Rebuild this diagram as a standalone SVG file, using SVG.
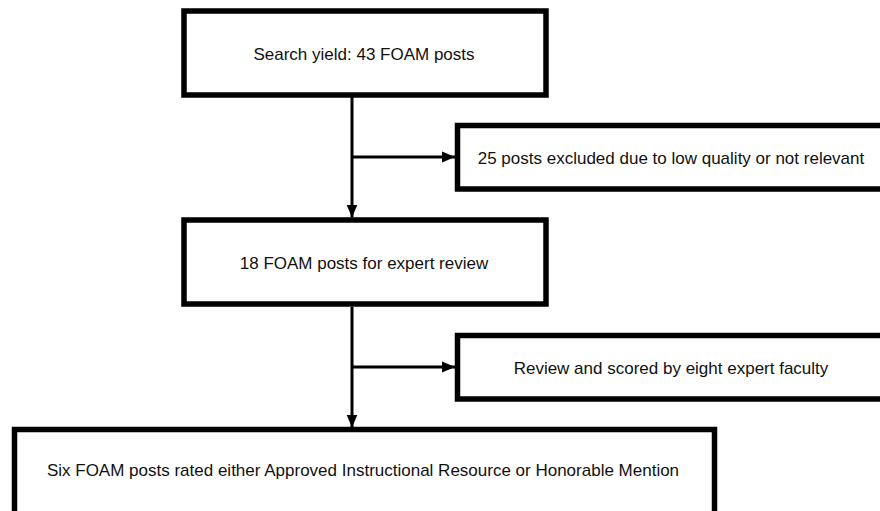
<svg xmlns="http://www.w3.org/2000/svg" width="880" height="511" viewBox="0 0 880 511">
  <defs>
    <style>
      .box { fill: #ffffff; stroke: #000000; stroke-width: 5.5; }
      .lbl { font-family: "Liberation Sans", Arial, Helvetica, sans-serif; font-size: 17px; fill: #111111; text-anchor: middle; }
      .conn { stroke: #000000; stroke-width: 3; fill: none; }
    </style>
    <marker id="arrow" markerUnits="userSpaceOnUse" markerWidth="14" markerHeight="12" refX="13" refY="6" orient="auto">
      <path d="M0,0.5 L13,6 L0,11.5 z" fill="#000000"/>
    </marker>
  </defs>
  <rect width="880" height="511" fill="#ffffff"/>

  <g id="connectors">
    <line class="conn" x1="352" y1="97" x2="352" y2="217.5" marker-end="url(#arrow)"/>
    <line class="conn" x1="352" y1="157" x2="455" y2="157" marker-end="url(#arrow)"/>
    <line class="conn" x1="352" y1="307" x2="352" y2="427.5" marker-end="url(#arrow)"/>
    <line class="conn" x1="352" y1="367" x2="455" y2="367" marker-end="url(#arrow)"/>
  </g>

  <g id="node-search">
    <rect class="box" x="184" y="11" width="362" height="84"/>
    <text class="lbl" x="364" y="59.5">Search yield: 43 FOAM posts</text>
  </g>

  <g id="node-excluded">
    <rect class="box" x="457.5" y="125.5" width="430" height="63.5"/>
    <text class="lbl" x="671" y="163.5">25 posts excluded due to low quality or not relevant</text>
  </g>

  <g id="node-review">
    <rect class="box" x="184" y="220" width="362" height="84"/>
    <text class="lbl" x="364" y="268.5">18 FOAM posts for expert review</text>
  </g>

  <g id="node-scored">
    <rect class="box" x="457.5" y="335.5" width="430" height="63.5"/>
    <text class="lbl" x="671" y="373.5">Review and scored by eight expert faculty</text>
  </g>

  <g id="node-result">
    <rect class="box" x="14.5" y="429.5" width="700" height="100"/>
    <text class="lbl" x="363" y="476">Six FOAM posts rated either Approved Instructional Resource or Honorable Mention</text>
  </g>
</svg>
